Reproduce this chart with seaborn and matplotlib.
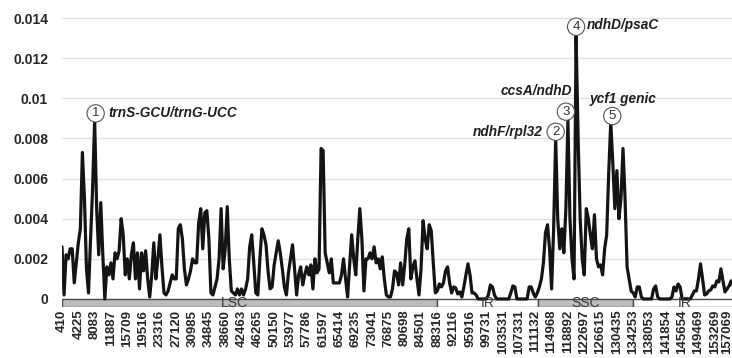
import numpy as np
import pandas as pd
import seaborn as sns
import matplotlib.pyplot as plt
import matplotlib.transforms as mtransforms

# ---------------- data ----------------
tick_labels = [410, 4225, 8083, 11887, 15709, 19516, 23316, 27120, 30985, 34845,
               38660, 42463, 46265, 50150, 53977, 57786, 61597, 65414, 69235, 73041,
               76875, 80698, 84501, 88316, 92116, 95916, 99731, 103531, 107331, 111132,
               114968, 118892, 122697, 126615, 130435, 134253, 138053, 141854, 145654,
               149469, 153269, 157069]

# nucleotide diversity (x 1e-3), one value per sliding window
pi_milli = [
    2.6, 0.2, 2.2, 2.0, 2.5, 2.5, 0.8, 1.8, 2.8, 3.5,
    7.3, 5.0, 1.5, 0.3, 3.0, 5.5, 8.9, 4.5, 2.2, 4.8,
    2.2, 0.0, 1.6, 1.2, 1.8, 1.0, 2.3, 2.0, 2.4, 4.0,
    3.2, 1.2, 2.0, 1.0, 2.2, 2.8, 1.0, 2.3, 0.5, 2.3,
    1.4, 2.4, 1.0, 0.1, 1.2, 2.8, 1.0, 2.0, 3.2, 1.6,
    0.3, 0.2, 0.4, 0.8, 1.2, 1.0, 1.0, 3.5, 3.7, 3.0,
    1.5, 0.7, 1.0, 1.4, 2.0, 1.8, 1.8, 3.8, 4.5, 2.5,
    4.3, 4.4, 3.0, 0.3, 0.2, 0.6, 1.0, 2.0, 4.5, 1.5,
    2.5, 4.6, 2.0, 0.4, 0.3, 0.2, 0.5, 0.2, 0.5, 0.2,
    0.5, 1.0, 2.6, 3.2, 1.8, 0.3, 0.2, 2.0, 3.5, 3.2,
    2.7, 1.4, 0.5, 0.6, 1.7, 2.3, 2.9, 2.3, 1.5, 0.6,
    0.2, 1.3, 2.0, 2.7, 1.5, 0.2, 1.2, 1.6, 0.7, 1.2,
    1.6, 1.2, 1.7, 0.5, 2.0, 1.3, 1.5, 7.5, 7.4, 2.3,
    1.8, 1.3, 2.0, 0.8, 0.8, 0.8, 0.8, 1.2, 2.0, 1.0,
    0.1, 1.7, 3.2, 2.0, 1.2, 3.0, 4.5, 3.0, 0.4, 2.0,
    2.0, 2.3, 2.0, 2.6, 1.8, 2.0, 1.5, 2.1, 1.0, 0.2,
    0.1, 0.1, 0.5, 1.4, 1.3, 0.7, 1.8, 0.7, 1.7, 3.0,
    3.5, 1.0, 1.6, 1.9, 1.0, 0.2, 1.5, 3.9, 3.0, 2.5,
    3.7, 3.4, 1.8, 0.3, 0.4, 0.75, 0.6, 0.8, 1.4, 1.6,
    0.8, 0.3, 0.6, 0.55, 0.25, 0.35, 0.1, 0.6, 1.2, 1.75,
    1.2, 0.3, 0.3, 0.2, 0.0, 0.0, 0.0, 0.0, 0.0, 0.2,
    0.7, 0.6, 0.2, 0.0, 0.0, 0.0, 0.0, 0.0, 0.0, 0.0,
    0.3, 0.65, 0.6, 0.0, 0.0, 0.0, 0.0, 0.0, 0.0, 0.6,
    0.6, 0.3, 0.1, 0.3, 0.6, 1.0, 1.8, 3.3, 3.7, 2.5,
    0.5, 3.5, 8.0, 4.0, 2.5, 3.5, 2.3, 4.5, 8.9, 4.0,
    2.0, 1.0, 13.1, 8.0, 4.0, 2.0, 1.2, 4.5, 4.0, 3.2,
    2.5, 4.2, 2.0, 1.6, 1.7, 1.2, 2.5, 3.2, 6.3, 8.8,
    6.8, 4.5, 6.4, 4.0, 5.0, 7.5, 5.0, 1.6, 1.0, 0.4,
    0.3, 0.1, 0.6, 0.6, 0.1, 0.0, 0.0, 0.0, 0.0, 0.0,
    0.5, 0.65, 0.1, 0.0, 0.0, 0.0, 0.0, 0.0, 0.0, 0.1,
    0.6, 0.4, 0.75, 0.6, 0.0, 0.0, 0.0, 0.0, 0.0, 0.2,
    0.4, 0.4, 1.0, 1.75, 1.0, 0.2, 0.25, 0.4, 0.45, 0.65,
    0.6, 0.9, 0.85, 1.5, 0.9, 0.35, 0.5, 0.65, 0.9, 0.65,
]

region_names = ["LSC", "IR", "SSC", "IR"]
region_start = [0, 184, 233.3, 280]
region_end = [184, 233.3, 280, 336]

annot_numbers = ["1", "2", "3", "4", "5"]
annot_texts = ["trnS-GCU/trnG-UCC", "ndhF/rpl32", "ccsA/ndhD", "ndhD/psaC", "ycf1 genic"]
annot_windows = [16, 242, 248, 252, 269]

y_ticks = [0, 0.002, 0.004, 0.006, 0.008, 0.01, 0.012, 0.014]
y_ticklabels = ["0", "0.002", "0.004", "0.006", "0.008", "0.01", "0.012", "0.014"]

# ---------------- plot ----------------
sns.set_theme(style="white")
plt.rcParams["font.family"] = ["Liberation Sans", "DejaVu Sans"]

pi = np.array(pi_milli) / 1000.0
df = pd.DataFrame({"window": np.arange(len(pi)), "pi": pi})

W, H = 732, 358
fig = plt.figure(figsize=(W / 100, H / 100), dpi=100)
fig.patch.set_facecolor("white")
ax = fig.add_axes([62 / W, 51 / H, 670 / W, 299 / H])

sns.lineplot(data=df, x="window", y="pi", color="#141414", lw=2.3, ax=ax, zorder=4)

ax.set_xlim(0, 670 / 2.04)
ax.set_ylim(-0.0004, 0.0145)
ax.set_xlabel("")
ax.set_ylabel("")

ax.set_yticks(y_ticks)
ax.set_yticklabels(y_ticklabels, fontsize=10, fontweight="bold", color="#262626")
ax.yaxis.grid(True, color="#e2e2e2", lw=1.0)
ax.xaxis.grid(False)
ax.set_axisbelow(True)

xt = np.arange(len(tick_labels)) * 8
ax.set_xticks(xt)
ax.set_xticklabels([str(t) for t in tick_labels], rotation=90, fontsize=9.5,
                   fontweight="bold", color="#262626")
ax.tick_params(axis="x", length=0, pad=2)
ax.tick_params(axis="y", length=0, pad=10)
# nudge the last (edge) label slightly inward so it stays inside the canvas
last = ax.get_xticklabels()[-1]
last.set_transform(last.get_transform() + mtransforms.ScaledTranslation(-4 / 100, 0, fig.dpi_scale_trans))

for s in ax.spines.values():
    s.set_visible(False)

# genome region bar
fills = {"LSC": "#bdbdbd", "SSC": "#bdbdbd", "IR": "white"}
for name, s, e in zip(region_names, region_start, region_end):
    ax.bar(s, 0.0004, width=e - s, bottom=-0.0004, align="edge",
           color=fills[name], edgecolor="#4a4a4a", lw=1.0, zorder=3, clip_on=True)
    mid = (s + min(e, 330)) / 2
    if name == "LSC":
        mid = s + (e - s) * 0.46
    ax.text(mid, -0.00022, name, ha="center", va="center", fontsize=10,
            color="#3a3a3a", zorder=5)

# annotations
circle_off = [(1, 7), (0, 6.7), (-2, 8.7), (0, 9.4), (1.5, 6.4)]
text_off = [(13.4, 7, "left"), (-12.7, 6.4, "right"), (3.8, 29.7, "right"),
            (11, 11, "left"), (-20.8, 23.4, "left")]
px2pt = 0.72
for num, txt, w, co, to in zip(annot_numbers, annot_texts, annot_windows, circle_off, text_off):
    xy = (w, pi[w])
    ax.annotate(num, xy=xy, xytext=(co[0] * px2pt, co[1] * px2pt), textcoords="offset points",
                ha="center", va="center", fontsize=9.5, color="#333333",
                bbox=dict(boxstyle="circle,pad=0.2", fc="white", ec="#555555", lw=0.8),
                zorder=6, annotation_clip=False)
    ax.annotate(txt, xy=xy, xytext=(to[0] * px2pt, to[1] * px2pt), textcoords="offset points",
                ha=to[2], va="center", fontsize=9.8, fontweight="bold", fontstyle="italic",
                color="#1e1e1e", zorder=6, annotation_clip=False)

fig.savefig("out.png", dpi=100, facecolor="white")
